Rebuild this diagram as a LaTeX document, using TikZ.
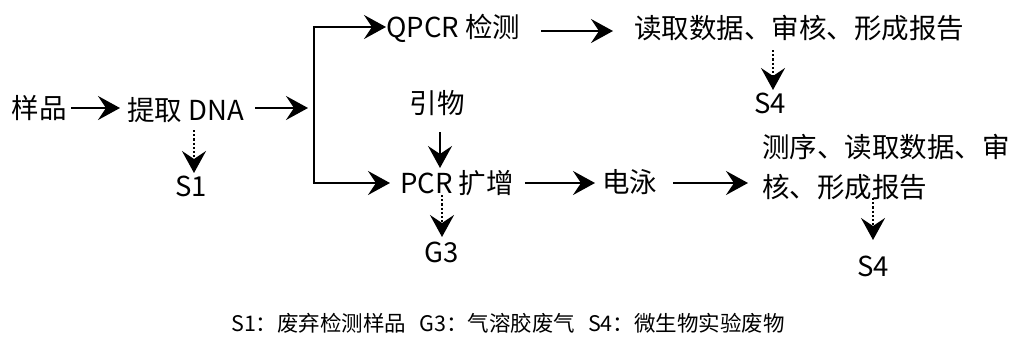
\documentclass[tikz,border=0pt]{standalone}
\usepackage{fontspec}
\setmainfont{Noto Sans CJK SC}
\usetikzlibrary{arrows.meta}
\begin{document}
\begin{tikzpicture}[x=1pt,y=-1pt,
  txt/.style={inner sep=0pt,font=\fontsize{27.5}{40}\selectfont},
  lgd/.style={inner sep=0pt,font=\fontsize{21.5}{26}\selectfont},
  arr/.style={line width=2.2pt,-{Stealth[length=22pt,width=24pt,inset=8pt]}},
  darr/.style={line width=2.2pt,dotted,-{Stealth[length=22pt,width=24pt,inset=8pt]}}]
\useasboundingbox (0,0) rectangle (1014,354);
\node[txt] (n1) at (39,108) {样品};
\node[txt,anchor=west] (n2) at (127,110) {提取 DNA};
\node[txt] (s1) at (191,186) {S1};
\node[txt,anchor=west] (q) at (386,28) {QPCR 检测};
\node[txt,anchor=west] (rd) at (634,28) {读取数据、审核、形成报告};
\node[txt] (s4a) at (770,103) {S4};
\node[txt] (yw) at (437,103) {引物};
\node[txt,anchor=west] (pcr) at (400,183) {PCR 扩增};
\node[txt] (g3) at (442,252) {G3};
\node[txt,anchor=west] (dy) at (602,182) {电泳};
\node[txt,anchor=west,align=left] (cx) at (762,167) {测序、读取数据、审\\核、形成报告};
\node[txt] (s4b) at (873,266) {S4};
\node[lgd] (lg) at (508,323) {S1：废弃检测样品\hspace{0.6em}G3：气溶胶废气\hspace{0.6em}S4：微生物实验废物};
\coordinate (bt) at (314,27);
\coordinate (bb) at (314,183);
\coordinate (bm) at (314,108);
% connectors
\draw[arr,shorten <=4.5pt,shorten >=7pt] (n1.east) -- (n1.east -| n2.west);
\draw[arr,shorten <=11pt,shorten >=6pt] (n2.east |- bm) -- (bm);
\draw[darr,shorten <=20pt,shorten >=13pt] ([xshift=3pt]s1.center |- n2.center) -- ([xshift=3pt]s1.center);
\draw[line width=2.2pt] (bt) -- (bb);
\draw[arr] ([xshift=-1.1pt]bt) -- (q.west |- bt);
\draw[arr,shorten >=10pt] ([xshift=-1.1pt]bb) -- (pcr.west |- bb);
\draw[arr,shorten <=21pt,shorten >=21pt] (q.east |- 0,31) -- (rd.west |- 0,31);
\draw[darr,shorten <=22pt,shorten >=13pt] ([xshift=3pt]s4a.center |- rd.center) -- ([xshift=3pt]s4a.center);
\draw[arr,shorten <=29pt,shorten >=15pt] (yw.center -| 440,0) -- (pcr.center -| 440,0);
\draw[darr,shorten <=12pt,shorten >=15pt] (g3.center |- pcr.center) -- (g3.center);
\draw[arr,shorten <=11pt,shorten >=7pt] (pcr.east |- 0,183) -- (dy.west |- 0,183);
\draw[arr,shorten <=16pt,shorten >=14pt] (dy.east |- 0,183) -- (cx.west |- 0,183);
\draw[darr,shorten <=31pt,shorten >=26pt] (s4b.center |- cx.center) -- (s4b.center);
\end{tikzpicture}
\end{document}
